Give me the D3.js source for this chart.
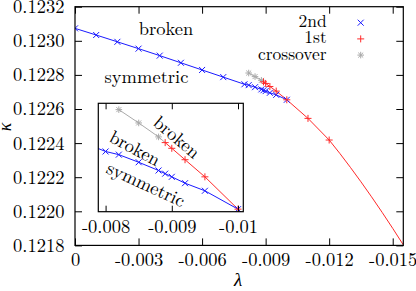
<!DOCTYPE html>
<html>
<head>
<meta charset="utf-8">
<script src="https://cdn.jsdelivr.net/npm/d3@7"></script>
<style>
  body { margin: 0; background: #fff; }
</style>
</head>
<body>
<div id="chart"></div>
<script>
// 2nd order transition points (blue x)
var lambda2nd = [0, -0.001, -0.002, -0.003, -0.004, -0.005, -0.006, -0.007,
  -0.008, -0.0082, -0.0085, -0.0088, -0.0089, -0.009, -0.0092, -0.0095, -0.01];
var kappa2nd = [0.123073, 0.123034, 0.122994, 0.122954, 0.122913, 0.122871, 0.122829, 0.122787,
  0.122745, 0.122740, 0.122728, 0.122715, 0.122710, 0.122705, 0.122695, 0.122683, 0.122654];

// 1st order transition points (red +)
var lambda1st = [-0.0089, -0.009, -0.0092, -0.0095, -0.01, -0.011, -0.012];
var kappa1st = [0.122759, 0.122750, 0.122732, 0.122705, 0.122654, 0.122545, 0.122418];

// red continuation without markers
var lambdaFit = [-0.012, -0.0125, -0.013, -0.0135, -0.014, -0.0145, -0.015, -0.0155];
var kappaFit = [0.122418, 0.122340, 0.122258, 0.122173, 0.122085, 0.121994, 0.121900, 0.121803];

// crossover points (gray *)
var lambdaCross = [-0.0082, -0.0085, -0.0088];
var kappaCross = [0.122811, 0.122790, 0.122768];

var xTicks = [0, -0.003, -0.006, -0.009, -0.012, -0.015];
var yTicks = [0.1218, 0.1220, 0.1222, 0.1224, 0.1226, 0.1228, 0.1230, 0.1232];
var insetTicks = [-0.008, -0.009, -0.01];
var legendNames = ["2nd", "1st", "crossover"];

var blue = "#1a1aff", red = "#ff2a2a", gray = "#aaaaaa";
var FONT = "Latin Modern Roman";
var FS = 18.5;

function zip(a, b) { return a.map((v, i) => [v, b[i]]); }
var pts2nd = zip(lambda2nd, kappa2nd);
var pts1st = zip(lambda1st, kappa1st);
var ptsFit = zip(lambdaFit, kappaFit);
var ptsCross = zip(lambdaCross, kappaCross);

var svg = d3.select("#chart").append("svg")
  .attr("width", 416).attr("height", 291);

function label(g, txt, size) {
  return g.append("text").style("font-family", FONT).style("font-size", size + "px")
    .attr("fill", "#000").text(txt);
}

// marker shapes
function cross(s) { return `M${-s},${-s}L${s},${s}M${-s},${s}L${s},${-s}`; }
function plus(s) { return `M${-s},0L${s},0M0,${-s}L0,${s}`; }
function star(s) { return plus(s) + cross(s * 0.75); }

function drawSeries(g, x, y, clipId) {
  var line = d3.line().x(d => x(d[0])).y(d => y(d[1]));
  var c = g.append("g").attr("clip-path", `url(#${clipId})`);
  c.append("path").datum(ptsCross.concat([pts1st[0]])).attr("d", line)
    .attr("fill", "none").attr("stroke", gray).attr("stroke-width", 1);
  c.append("path").datum(pts2nd).attr("d", line)
    .attr("fill", "none").attr("stroke", blue).attr("stroke-width", 1);
  c.append("path").datum(pts1st).attr("d", line)
    .attr("fill", "none").attr("stroke", red).attr("stroke-width", 1);
  c.append("path").datum(ptsFit).attr("d", line)
    .attr("fill", "none").attr("stroke", red).attr("stroke-width", 1);

  c.selectAll(null).data(ptsCross).enter().append("path")
    .attr("transform", d => `translate(${x(d[0])},${y(d[1])})`)
    .attr("d", star(3.3)).attr("stroke", gray).attr("stroke-width", 1).attr("fill", "none");
  c.selectAll(null).data(pts2nd).enter().append("path")
    .attr("transform", d => `translate(${x(d[0])},${y(d[1])})`)
    .attr("d", cross(3)).attr("stroke", blue).attr("stroke-width", 1).attr("fill", "none");
  c.selectAll(null).data(pts1st).enter().append("path")
    .attr("transform", d => `translate(${x(d[0])},${y(d[1])})`)
    .attr("d", plus(3.5)).attr("stroke", red).attr("stroke-width", 1).attr("fill", "none");
}

function styleAxis(a) {
  a.attr("font-family", null).attr("font-size", null);
  a.select(".domain").remove();
  a.selectAll("line").attr("stroke", "#000");
  a.selectAll("text").style("font-size", FS + "px").style("font-family", FONT).attr("fill", "#000");
}

// ---- main plot ----
var L = 75, R = 403.3, T = 6.7, B = 245.4;
var x = d3.scaleLinear().domain([0, -0.0155]).range([L, R]);
var y = d3.scaleLinear().domain([0.1218, 0.1232]).range([B, T]);

var defs = svg.append("defs");
defs.append("clipPath").attr("id", "clipMain").append("rect")
  .attr("x", L).attr("y", T).attr("width", R - L).attr("height", B - T);

var main = svg.append("g");

label(main, "broken", FS).attr("x", 166).attr("y", 35).attr("text-anchor", "middle");
label(main, "symmetric", FS).attr("x", 146.5).attr("y", 82.5).attr("text-anchor", "middle");

drawSeries(main, x, y, "clipMain");

var fmtX = d => d === 0 ? "0" : d.toFixed(3);
styleAxis(main.append("g").attr("transform", `translate(0,${B})`)
  .call(d3.axisBottom(x).tickValues(xTicks).tickFormat(fmtX).tickSize(-7).tickPadding(7.5)));
styleAxis(main.append("g").attr("transform", `translate(0,${T})`)
  .call(d3.axisTop(x).tickValues(xTicks).tickFormat("").tickSize(-7)));
styleAxis(main.append("g").attr("transform", `translate(${L},0)`)
  .call(d3.axisLeft(y).tickValues(yTicks).tickFormat(d3.format(".4f")).tickSize(-7).tickPadding(10.5)));
styleAxis(main.append("g").attr("transform", `translate(${R},0)`)
  .call(d3.axisRight(y).tickValues(yTicks).tickFormat("").tickSize(-7)));
main.append("rect").attr("x", L).attr("y", T).attr("width", R - L).attr("height", B - T)
  .attr("fill", "none").attr("stroke", "#000").attr("stroke-width", 1.2);

label(main, "λ", 19).attr("x", 238).attr("y", 286).attr("text-anchor", "middle")
  .style("font-style", "italic");
label(main, "κ", 18).attr("transform", "translate(11,127) rotate(-90)").attr("text-anchor", "middle")
  .style("font-style", "italic");

// legend
var legColors = [blue, red, gray];
var legShapes = [cross(3), plus(3.5), star(3.3)];
legendNames.forEach((name, i) => {
  var ly = 22.7 + i * 16.2;
  label(main, name, 17.5).attr("x", 326.7).attr("y", ly + 4.5).attr("text-anchor", "end");
  main.append("path").attr("transform", `translate(360.7,${ly})`).attr("d", legShapes[i])
    .attr("stroke", legColors[i]).attr("stroke-width", 1).attr("fill", "none");
});

// ---- inset ----
var iL = 98.3, iR = 243.3, iT = 103.3, iB = 211.7;
var xi = d3.scaleLinear().domain([-0.00789, -0.01008]).range([iL, iR]);
var yi = d3.scaleLinear().domain([0.12265, 0.122821]).range([iB, iT]);

defs.append("clipPath").attr("id", "clipInset").append("rect")
  .attr("x", iL).attr("y", iT).attr("width", iR - iL).attr("height", iB - iT);

var inset = svg.append("g");
inset.append("rect").attr("x", iL).attr("y", iT).attr("width", iR - iL).attr("height", iB - iT)
  .attr("fill", "#fff");

label(inset, "broken", FS).attr("transform", "translate(177,137) rotate(40)")
  .attr("text-anchor", "middle").attr("dy", "0.35em");
label(inset, "broken", FS).attr("transform", "translate(135,148) rotate(28)")
  .attr("text-anchor", "middle").attr("dy", "0.35em");
label(inset, "symmetric", FS).attr("transform", "translate(146,184) rotate(24.5)")
  .attr("text-anchor", "middle").attr("dy", "0.35em");

drawSeries(inset, xi, yi, "clipInset");

var fmtI = d => String(parseFloat(d.toFixed(4)));
styleAxis(inset.append("g").attr("transform", `translate(0,${iB})`)
  .call(d3.axisBottom(xi).tickValues(insetTicks).tickFormat(fmtI).tickSize(-6).tickPadding(8)));
styleAxis(inset.append("g").attr("transform", `translate(0,${iT})`)
  .call(d3.axisTop(xi).tickValues(insetTicks).tickFormat("").tickSize(-6)));
inset.append("rect").attr("x", iL).attr("y", iT).attr("width", iR - iL).attr("height", iB - iT)
  .attr("fill", "none").attr("stroke", "#000").attr("stroke-width", 1.2);
</script>
</body>
</html>
